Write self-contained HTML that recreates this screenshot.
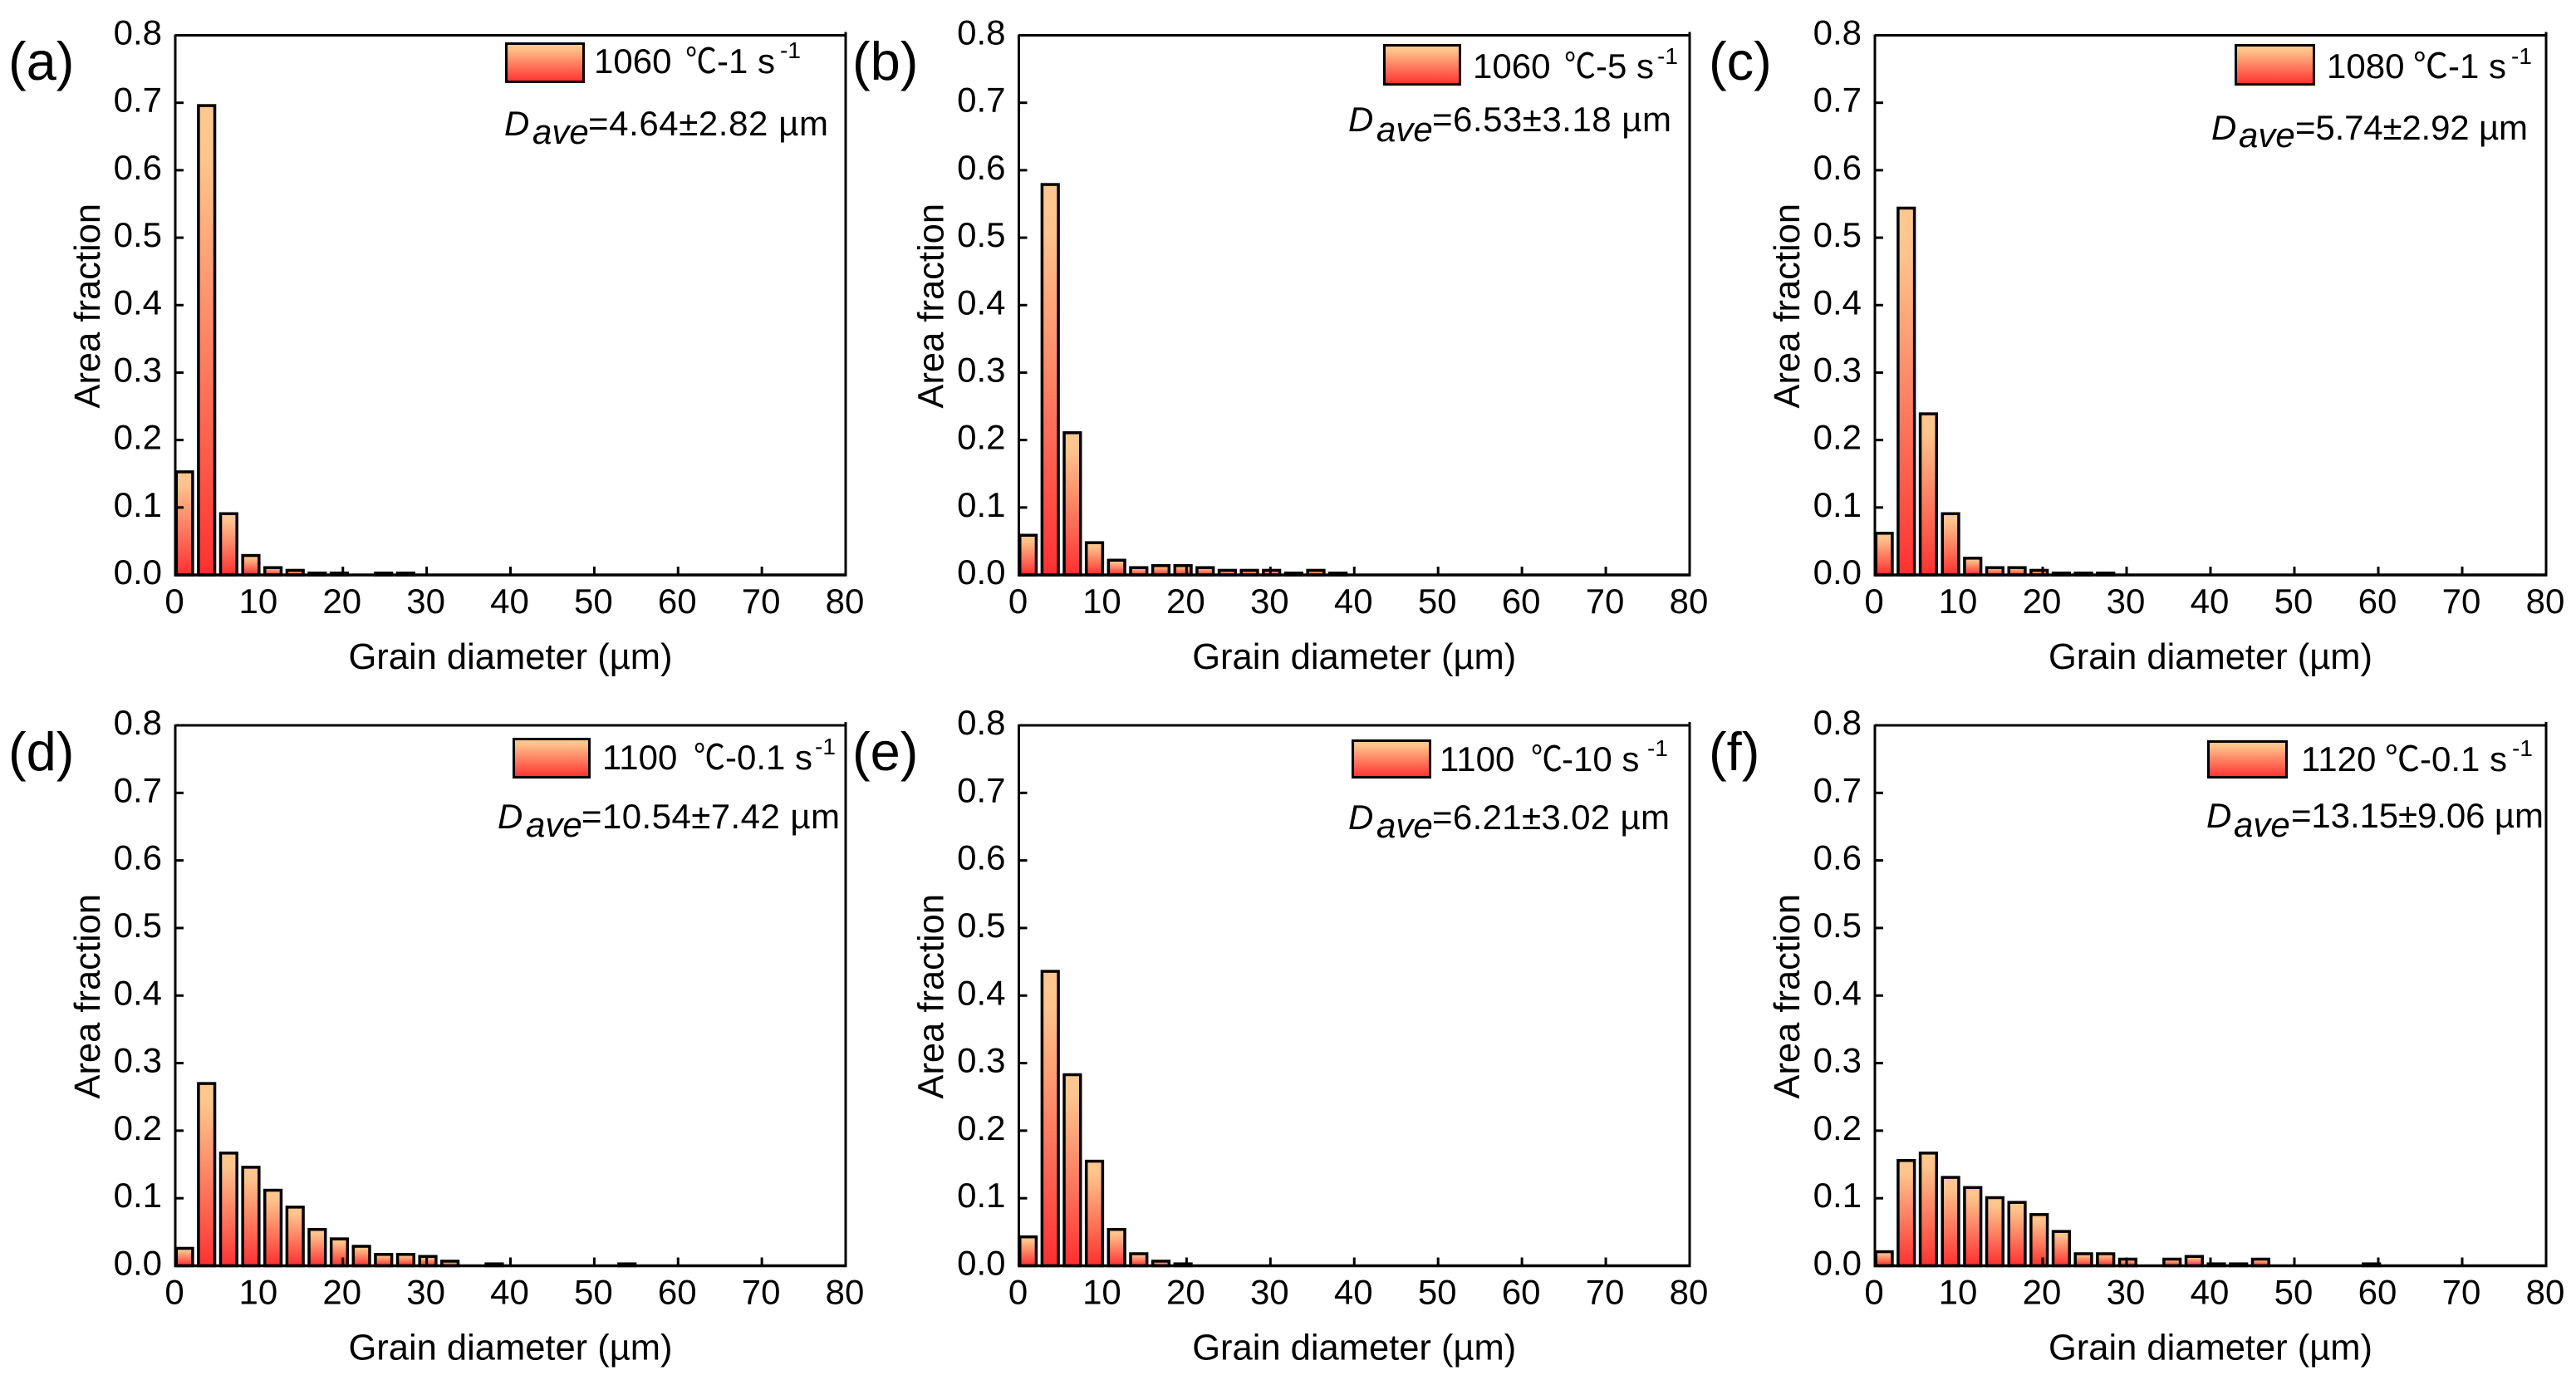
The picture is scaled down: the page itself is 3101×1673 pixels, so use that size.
<!DOCTYPE html>
<html lang="en">
<head>
<meta charset="utf-8">
<title>Grain diameter area fraction histograms</title>
<style>
html,body{margin:0;padding:0;background:#fff;}
svg{display:block;}
text{font-family:"Liberation Sans","Noto Sans CJK SC",sans-serif;fill:#000;font-size:42px;}
.panel-label{font-size:65px;}
.sup{font-size:28px;}
.ital{font-style:italic;}
.axis-title{font-size:43.5px;}
</style>
</head>
<body>
<svg id="figure" xmlns="http://www.w3.org/2000/svg" width="3101" height="1673" viewBox="0 0 3101 1673">
<defs>
<linearGradient id="barFill" x1="0" y1="0" x2="0" y2="1">
<stop offset="0" stop-color="#ffc890"/>
<stop offset="0.12" stop-color="#ffc48c"/>
<stop offset="1" stop-color="#ff3030"/>
</linearGradient>
</defs>
<rect width="3101" height="1673" fill="#fff"/>

<g id="panel-a">
<text class="panel-label" x="10" y="96">(a)</text>
<g>
<rect x="609.5" y="52.5" width="93" height="46" fill="url(#barFill)" stroke="#000" stroke-width="3"/>
<text x="715" y="88">1060</text>
<text x="825" y="88" textLength="38" lengthAdjust="spacingAndGlyphs">℃</text>
<text x="863" y="88">-1 s</text>
<text class="sup" x="939" y="70">-1</text>
</g>
<g>
<text class="ital" x="607" y="163">D</text>
<text class="ital" x="641" y="173">ave</text>
<text x="708" y="163" textLength="289">=4.64±2.82 µm</text>
</g>
</g>

<g id="panel-b">
<text class="panel-label" x="1026" y="96">(b)</text>
<g>
<rect x="1666.5" y="54.5" width="91" height="47" fill="url(#barFill)" stroke="#000" stroke-width="3"/>
<text x="1773" y="94">1060</text>
<text x="1883" y="94" textLength="38" lengthAdjust="spacingAndGlyphs">℃</text>
<text x="1921" y="94">-5 s</text>
<text class="sup" x="1995" y="77">-1</text>
</g>
<g>
<text class="ital" x="1623" y="158">D</text>
<text class="ital" x="1657" y="170">ave</text>
<text x="1724" y="158" textLength="288">=6.53±3.18 µm</text>
</g>
</g>

<g id="panel-c">
<text class="panel-label" x="2057" y="96">(c)</text>
<g>
<rect x="2691.5" y="54.5" width="94" height="47" fill="url(#barFill)" stroke="#000" stroke-width="3"/>
<text x="2801" y="94">1080</text>
<text x="2905" y="94" textLength="42" lengthAdjust="spacingAndGlyphs">℃</text>
<text x="2947" y="94">-1 s</text>
<text class="sup" x="3023" y="77">-1</text>
</g>
<g>
<text class="ital" x="2662" y="168">D</text>
<text class="ital" x="2695" y="177">ave</text>
<text x="2763" y="168" textLength="280">=5.74±2.92 µm</text>
</g>
</g>

<g id="panel-d">
<text class="panel-label" x="10" y="927">(d)</text>
<g>
<rect x="618.5" y="889.5" width="91" height="46" fill="url(#barFill)" stroke="#000" stroke-width="3"/>
<text x="725" y="926">1100</text>
<text x="835" y="926" textLength="38" lengthAdjust="spacingAndGlyphs">℃</text>
<text x="873" y="926">-0.1 s</text>
<text class="sup" x="981" y="908">-1</text>
</g>
<g>
<text class="ital" x="599" y="997">D</text>
<text class="ital" x="633" y="1007">ave</text>
<text x="700" y="997" textLength="311">=10.54±7.42 µm</text>
</g>
</g>

<g id="panel-e">
<text class="panel-label" x="1026" y="927">(e)</text>
<g>
<rect x="1628.5" y="891.5" width="93" height="44" fill="url(#barFill)" stroke="#000" stroke-width="3"/>
<text x="1733" y="928">1100</text>
<text x="1843" y="928" textLength="38" lengthAdjust="spacingAndGlyphs">℃</text>
<text x="1880" y="928">-10 s</text>
<text class="sup" x="1983" y="910">-1</text>
</g>
<g>
<text class="ital" x="1623" y="998">D</text>
<text class="ital" x="1657" y="1008">ave</text>
<text x="1724" y="998" textLength="286">=6.21±3.02 µm</text>
</g>
</g>

<g id="panel-f">
<text class="panel-label" x="2057" y="927">(f)</text>
<g>
<rect x="2658.5" y="892.5" width="94" height="43" fill="url(#barFill)" stroke="#000" stroke-width="3"/>
<text x="2770" y="928">1120</text>
<text x="2871" y="928" textLength="42" lengthAdjust="spacingAndGlyphs">℃</text>
<text x="2913" y="928">-0.1 s</text>
<text class="sup" x="3024" y="910">-1</text>
</g>
<g>
<text class="ital" x="2656" y="996">D</text>
<text class="ital" x="2689" y="1007">ave</text>
<text x="2758" y="996" textLength="304">=13.15±9.06 µm</text>
</g>
</g>
</svg>

<script>
const binStartsUm = [0, 2.64, 5.28, 7.92, 10.56, 13.2, 15.84, 18.48, 21.12, 23.76, 26.4, 29.04, 31.68, 34.32, 36.96, 39.6, 42.24, 44.88, 47.52, 50.16, 52.8, 55.44, 58.08];
const barWidthUm = 1.95;
const valuesA = [0.155, 0.698, 0.093, 0.031, 0.013, 0.009, 0.005, 0.005, 0, 0.005, 0.005];
const valuesB = [0.061, 0.581, 0.213, 0.05, 0.024, 0.013, 0.016, 0.016, 0.013, 0.009, 0.009, 0.009, 0.005, 0.009, 0.005];
const valuesC = [0.064, 0.546, 0.241, 0.093, 0.027, 0.013, 0.013, 0.009, 0.005, 0.005, 0.005];
const valuesD = [0.028, 0.272, 0.169, 0.148, 0.114, 0.089, 0.056, 0.042, 0.031, 0.019, 0.019, 0.016, 0.009, 0, 0.005, 0, 0, 0, 0, 0, 0.005];
const valuesE = [0.045, 0.438, 0.285, 0.157, 0.056, 0.02, 0.009, 0.005];
const valuesF = [0.023, 0.158, 0.169, 0.133, 0.118, 0.103, 0.096, 0.078, 0.053, 0.02, 0.02, 0.012, 0, 0.012, 0.016, 0.005, 0.005, 0.012, 0, 0, 0, 0, 0.005];
const xTicks = [0, 10, 20, 30, 40, 50, 60, 70, 80];
const yTicks = [0, 0.1, 0.2, 0.3, 0.4, 0.5, 0.6, 0.7, 0.8];
const yTickLabels = ['0.0', '0.1', '0.2', '0.3', '0.4', '0.5', '0.6', '0.7', '0.8'];
const xTitle = 'Grain diameter (µm)';
const yTitle = 'Area fraction';

const panelSetup = [
  {id: 'a', values: valuesA, left: 211, right: 1018, top: 42.5, bottom: 692},
  {id: 'b', values: valuesB, left: 1226.5, right: 2034, top: 42.5, bottom: 692},
  {id: 'c', values: valuesC, left: 2257, right: 3065, top: 42.5, bottom: 692},
  {id: 'd', values: valuesD, left: 211, right: 1018, top: 873, bottom: 1523.5},
  {id: 'e', values: valuesE, left: 1226.5, right: 2034, top: 873, bottom: 1523.5},
  {id: 'f', values: valuesF, left: 2257, right: 3065, top: 873, bottom: 1523.5}
];

const SVG_NS = 'http://www.w3.org/2000/svg';

function make(tag, attrs, text) {
  const node = document.createElementNS(SVG_NS, tag);
  for (const key in attrs) node.setAttribute(key, attrs[key]);
  if (text !== undefined) node.textContent = text;
  return node;
}

function xScale(p, v) {
  return p.left + (v / 80) * (p.right - p.left);
}

function yScale(p, v) {
  return p.bottom - (v / 0.8) * (p.bottom - p.top);
}

function drawBars(p, root) {
  p.values.forEach(function (value, i) {
    if (!(value > 0)) return;
    const x0 = xScale(p, binStartsUm[i]) + 1.25;
    const w = xScale(p, binStartsUm[i] + barWidthUm) - xScale(p, binStartsUm[i]);
    const yTop = yScale(p, value) + 1.75;
    const bar = make('rect', {
      x: x0, y: yTop, width: w,
      height: Math.max(p.bottom - yTop, 0.5),
      fill: 'url(#barFill)', stroke: '#000', 'stroke-width': 3.5
    });
    
    
    root.appendChild(bar);
  });
}

function drawAxes(p, root) {
  const frame = [
    ['axis-left', p.left, p.top - 1, p.left, p.bottom + 1.5, 3],
    ['axis-right', p.right, p.top - 4, p.right, p.bottom + 1.5, 3],
    ['axis-top', p.left, p.top, p.right, p.top, 3],
    ['axis-bottom', p.left - 1.5, p.bottom, p.right + 1.5, p.bottom, 3.5]
  ];
  frame.forEach(function (f) {
    const line = make('line', {x1: f[1], y1: f[2], x2: f[3], y2: f[4], stroke: '#000', 'stroke-width': f[5]});
    
    
    root.appendChild(line);
  });

  xTicks.forEach(function (v) {
    const x = xScale(p, v);
    const tick = make('line', {x1: x, y1: p.bottom, x2: x, y2: p.bottom - 10, stroke: '#000', 'stroke-width': 3});
    
    
    root.appendChild(tick);
    const label = make('text', {x: x - 1, y: p.bottom + 46, 'text-anchor': 'middle'}, String(v));
    
    
    root.appendChild(label);
  });

  yTicks.forEach(function (v, i) {
    const y = yScale(p, v);
    const tick = make('line', {x1: p.left, y1: y, x2: p.left + 10, y2: y, stroke: '#000', 'stroke-width': 3});
    
    
    root.appendChild(tick);
    const label = make('text', {x: p.left - 16, y: y + 11, 'text-anchor': 'end'}, yTickLabels[i]);
    
    
    root.appendChild(label);
  });

  const xt = make('text', {x: (p.left + p.right) / 2, y: p.bottom + 113, 'text-anchor': 'middle', class: 'axis-title'}, xTitle);
  
  
  root.appendChild(xt);

  const cy = (p.top + p.bottom) / 2 + 1;
  const tx = p.left - 91;
  const yt = make('text', {x: tx, y: cy, 'text-anchor': 'middle', class: 'axis-title', transform: 'rotate(-90 ' + tx + ' ' + cy + ')'}, yTitle);
  
  
  root.appendChild(yt);
}

panelSetup.forEach(function (p) {
  const root = document.getElementById('panel-' + p.id);
  const marks = make('g', {});
  
  
  root.insertBefore(marks, root.firstChild);
  drawBars(p, marks);
  drawAxes(p, marks);
});
</script>
</body>
</html>
